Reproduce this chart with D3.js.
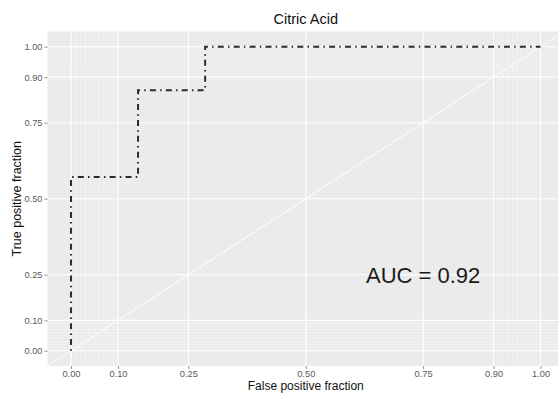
<!DOCTYPE html>
<html>
<head>
<meta charset="utf-8">
<script src="https://cdn.jsdelivr.net/npm/d3@7"></script>
<style>
  body { margin: 0; background: #fff; }
  svg { font-family: "Liberation Sans", Arial, sans-serif; }
</style>
</head>
<body>
<div id="chart"></div>
<script>
// ROC steps (false positive fraction, true positive fraction)
const fpr = [0, 0, 0, 1/7, 1/7, 2/7, 2/7, 1];
const tpr = [0, 0, 4/7, 4/7, 6/7, 6/7, 1, 1];
const majorBreaks = [0, 0.1, 0.25, 0.5, 0.75, 0.9, 1];
const tickLabels = ["0.00", "0.10", "0.25", "0.50", "0.75", "0.90", "1.00"];
const minorBreaks = d3.range(0, 0.1, 0.01).concat(d3.range(0.91, 1.001, 0.01));
const title = "Citric Acid";
const aucLabel = "AUC = 0.92";

const W = 558, H = 394;
const panel = {left: 47.5, right: 564, top: 31.5, bottom: 366};

let svg = d3.select("#chart").append("svg")
    .attr("width", W)
    .attr("height", H);

// scales with ggplot's 5% expansion
let x = d3.scaleLinear()
    .domain([-0.05, 1.05])
    .range([panel.left, panel.right]);
let y = d3.scaleLinear()
    .domain([-0.05, 1.05])
    .range([panel.bottom, panel.top]);

svg.append("rect")
    .attr("x", panel.left).attr("y", panel.top)
    .attr("width", panel.right - panel.left)
    .attr("height", panel.bottom - panel.top)
    .attr("fill", "#ebebeb");

let grid = svg.append("g");
// minor grid
minorBreaks.forEach(function(b) {
    grid.append("line")
        .attr("x1", x(b)).attr("x2", x(b))
        .attr("y1", panel.top).attr("y2", panel.bottom)
        .attr("stroke", "#f5f5f5").attr("stroke-width", 0.6);
    grid.append("line")
        .attr("y1", y(b)).attr("y2", y(b))
        .attr("x1", panel.left).attr("x2", panel.right)
        .attr("stroke", "#f5f5f5").attr("stroke-width", 0.6);
});
// major grid
majorBreaks.forEach(function(b) {
    grid.append("line")
        .attr("x1", x(b)).attr("x2", x(b))
        .attr("y1", panel.top).attr("y2", panel.bottom)
        .attr("stroke", "#fff").attr("stroke-width", 1.1);
    grid.append("line")
        .attr("y1", y(b)).attr("y2", y(b))
        .attr("x1", panel.left).attr("x2", panel.right)
        .attr("stroke", "#fff").attr("stroke-width", 1.1);
});

// reference diagonal
svg.append("line")
    .attr("x1", x(-0.05)).attr("y1", y(-0.05))
    .attr("x2", x(1.05)).attr("y2", y(1.05))
    .attr("stroke", "#fff").attr("stroke-width", 1);

// ROC curve
let rocData = d3.zip(fpr, tpr);
let line = d3.line()
    .x(function(d) { return x(d[0]); })
    .y(function(d) { return y(d[1]); });
svg.append("path")
    .datum(rocData)
    .attr("d", line)
    .attr("fill", "none")
    .attr("stroke", "#2b2b2b")
    .attr("stroke-width", 2)
    .attr("stroke-dasharray", "1.5,4.2,6,4.2");

// axes
let xAxis = svg.append("g")
    .attr("transform", `translate(0, ${panel.bottom})`)
    .call(d3.axisBottom(x).tickValues(majorBreaks)
        .tickFormat(function(d, i) { return tickLabels[i]; })
        .tickSize(3).tickPadding(1.5));
let yAxis = svg.append("g")
    .attr("transform", `translate(${panel.left}, 0)`)
    .call(d3.axisLeft(y).tickValues(majorBreaks)
        .tickFormat(function(d, i) { return tickLabels[i]; })
        .tickSize(3).tickPadding(2));
[xAxis, yAxis].forEach(function(a) {
    a.select(".domain").remove();
    a.selectAll(".tick line").attr("stroke", "#444").attr("stroke-width", 0.6);
    a.selectAll(".tick text")
        .attr("fill", "#5a5a5a")
        .style("font-size", "9.3px")
        .style("font-family", "Liberation Sans, Arial, sans-serif");
});

// title
svg.append("text")
    .attr("x", (panel.left + panel.right) / 2)
    .attr("y", 24)
    .attr("text-anchor", "middle")
    .style("font-size", "14.5px")
    .attr("fill", "#111")
    .text(title);

// axis titles
svg.append("text")
    .attr("x", (panel.left + panel.right) / 2)
    .attr("y", 389.5)
    .attr("text-anchor", "middle")
    .style("font-size", "12px")
    .attr("fill", "#111")
    .text("False positive fraction");

svg.append("text")
    .attr("transform", `translate(21, ${(panel.top + panel.bottom) / 2}) rotate(-90)`)
    .attr("text-anchor", "middle")
    .style("font-size", "12.5px")
    .attr("fill", "#111")
    .text("True positive fraction");

// AUC annotation
svg.append("text")
    .attr("x", x(0.75))
    .attr("y", y(0.25))
    .attr("dy", "0.36em")
    .attr("text-anchor", "middle")
    .style("font-size", "22px")
    .attr("fill", "#1a1a1a")
    .text(aucLabel);
</script>
</body>
</html>
